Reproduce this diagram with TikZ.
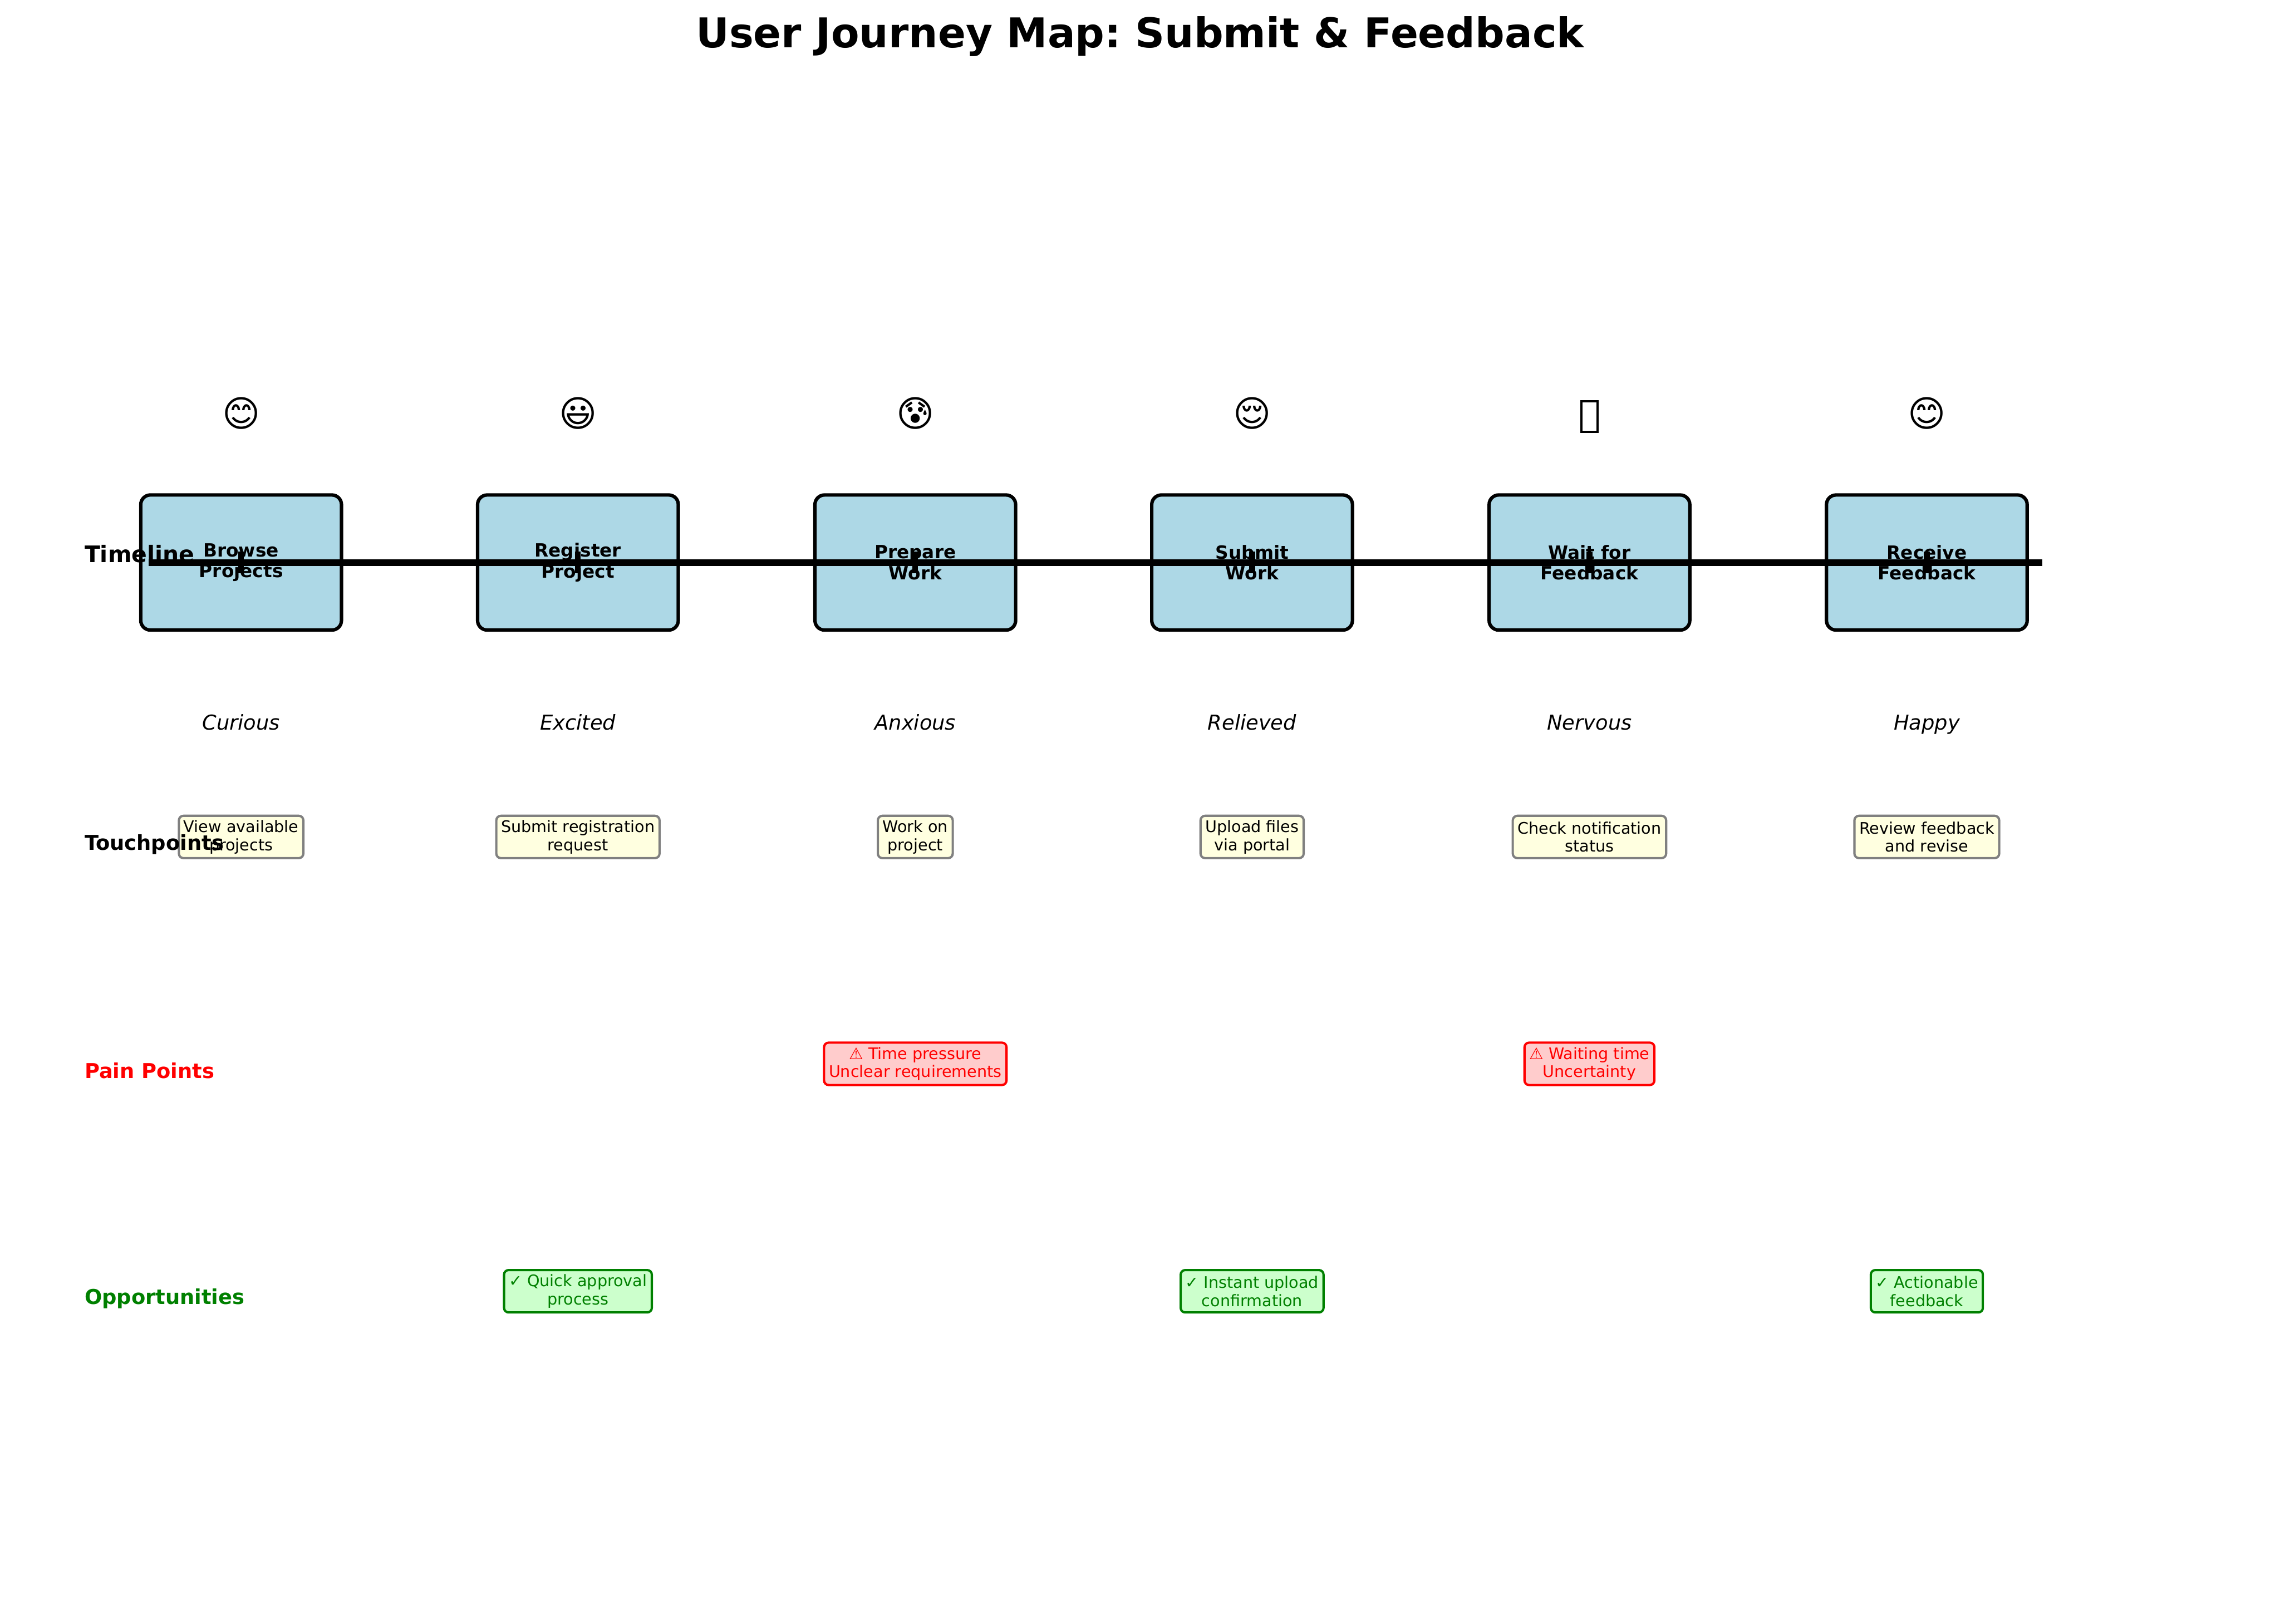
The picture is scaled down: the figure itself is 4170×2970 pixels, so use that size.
\documentclass[tikz,border=0pt]{standalone}
\usepackage{fontspec}
\setmainfont{DejaVu Sans}[BoldFont={DejaVu Sans Bold},ItalicFont={DejaVu Sans Oblique}]
\frenchspacing
\definecolor{stepfill}{HTML}{ADD8E6}
\definecolor{touchfill}{HTML}{FFFFE0}
\definecolor{painfill}{HTML}{FFCCCC}
\definecolor{oppfill}{HTML}{CCFFCC}
\definecolor{mplgreen}{HTML}{008000}
\newcommand{\sz}[1]{\fontsize{#1}{\dimexpr #1pt*114/100\relax}\selectfont}
\tikzset{
  stepbox/.style={draw=black,fill=stepfill,line width=1.5pt,rounded corners=4.2pt,minimum width=88.1pt,minimum height=59.3pt,inner sep=0pt,align=center,font=\sz{8}\bfseries},
  notebox/.style={line width=1pt,rounded corners=2pt,inner xsep=2.1pt,inner ysep=0pt,minimum height=18.6pt,align=center,font=\sz{7}},
  touchbox/.style={notebox,draw=gray,fill=touchfill,text=black},
  painbox/.style={notebox,draw=red,fill=painfill,text=red},
  oppbox/.style={notebox,draw=mplgreen,fill=oppfill,text=mplgreen},
  rowlabel/.style={anchor=base west,inner sep=0pt,font=\sz{9}\bfseries},
  emotion/.style={anchor=base,inner sep=0pt,font=\sz{9}\itshape},
  face/.style={anchor=center,inner sep=0pt,font=\sz{16}},
  timeline/.style={line width=3pt,draw=black},
  tickmark/.style={line width=2.5pt,draw=black}
}
\begin{document}
\begin{tikzpicture}[x=0.24pt,y=-0.24pt]
\useasboundingbox (0,0) rectangle (4170,2970);
\node[anchor=base,inner sep=0pt,font=\sz{18}\bfseries] (title) at (2085,87) {User Journey Map: Submit \& Feedback};

% faces
\node[face] (f1) at (441,756) {😊};
\node[face] (f2) at (1057,756) {😃};
\node[face] (f3) at (1674,756) {😰};
\node[face] (f4) at (2290,756) {😌};
\node[draw=black,line width=1pt,inner sep=0pt,minimum width=7.2pt,minimum height=13.3pt] (f5) at (2907,762) {};
\node[face] (f6) at (3524,756) {😊};

% steps
\node[stepbox] (s1) at (441,1029) {Browse\\Projects};
\node[stepbox] (s2) at (1057,1029) {Register\\Project};
\node[stepbox] (s3) at (1674,1029) {Prepare\\Work};
\node[stepbox] (s4) at (2290,1029) {Submit\\Work};
\node[stepbox] (s5) at (2907,1029) {Wait for\\Feedback};
\node[stepbox] (s6) at (3524,1029) {Receive\\Feedback};

% timeline
\coordinate (tlstart) at (272,1029);
\coordinate (tlend) at (3735,1029);
\draw[timeline] (tlstart) -- (tlend);
\foreach \n in {1,...,6}{
  \draw[tickmark] ([yshift=4.8pt]s\n.center) -- ([yshift=-4.8pt]s\n.center);
}
\node[rowlabel,font=\sz{10}\bfseries] (ltime) at (154,1029) {Timeline};

% emotions
\node[emotion] (e1) at (441,1335) {Curious};
\node[emotion] (e2) at (1057,1335) {Excited};
\node[emotion] (e3) at (1674,1335) {Anxious};
\node[emotion] (e4) at (2290,1335) {Relieved};
\node[emotion] (e5) at (2907,1335) {Nervous};
\node[emotion] (e6) at (3524,1335) {Happy};

% touchpoints
\node[touchbox] (t1) at (441,1531) {View available\\projects};
\node[touchbox] (t2) at (1057,1531) {Submit registration\\request};
\node[touchbox] (t3) at (1674,1531) {Work on\\project};
\node[touchbox] (t4) at (2290,1531) {Upload files\\via portal};
\node[touchbox] (t5) at (2907,1531) {Check notification\\status};
\node[touchbox] (t6) at (3524,1531) {Review feedback\\and revise};
\node[rowlabel] (ltouch) at (154,1555) {Touchpoints};

% pain points
\node[rowlabel,text=red] (lpain) at (154,1972) {Pain Points};
\node[painbox] (p3) at (1674,1946) {⚠ Time pressure\\Unclear requirements};
\node[painbox] (p5) at (2907,1946) {⚠ Waiting time\\Uncertainty};

% opportunities
\node[rowlabel,text=mplgreen] (lopp) at (154,2386) {Opportunities};
\node[oppbox] (o2) at (1057,2362) {✓ Quick approval\\process};
\node[oppbox] (o4) at (2290,2362) {✓ Instant upload\\confirmation};
\node[oppbox] (o6) at (3524,2362) {✓ Actionable\\feedback};
\end{tikzpicture}
\end{document}
